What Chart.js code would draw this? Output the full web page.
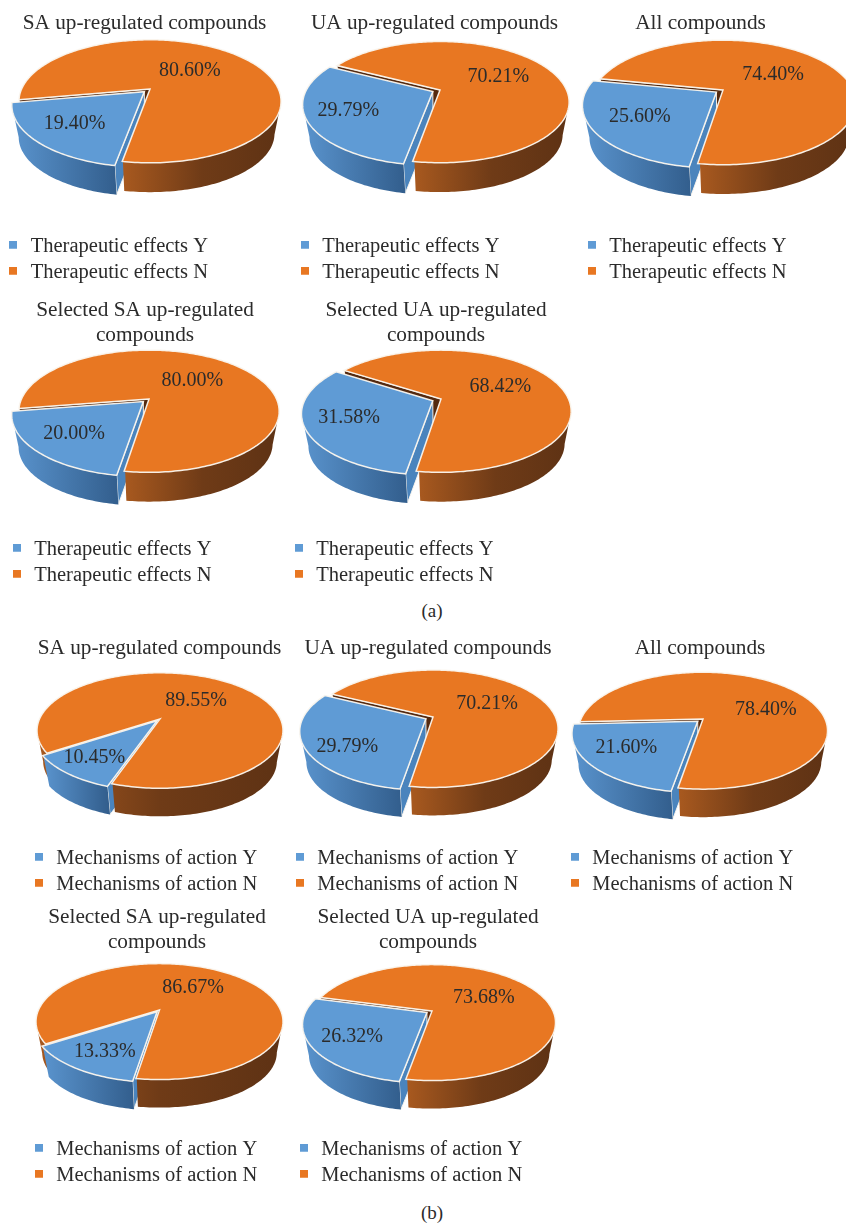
<!DOCTYPE html>
<html>
<head>
<meta charset="utf-8">
<style>
  html, body { margin: 0; background: #fff; overflow: hidden; }
  body { position: relative; width: 846px; height: 1223px; }
  canvas { position: absolute; }
  .cap { position: absolute; width: 40px; text-align: center; font: 19px "Liberation Serif", serif; color: #2b2b2b; }
</style>
</head>
<body>
<div class="cap" style="left:412px;top:600px">(a)</div>
<div class="cap" style="left:412px;top:1202px">(b)</div>
<script src="https://cdn.jsdelivr.net/npm/chart.js@4/dist/chart.umd.min.js"></script>
<script>
const titles = [
  'SA up-regulated compounds', 'UA up-regulated compounds', 'All compounds',
  ['Selected SA up-regulated', 'compounds'], ['Selected UA up-regulated', 'compounds'],
  'SA up-regulated compounds', 'UA up-regulated compounds', 'All compounds',
  ['Selected SA up-regulated', 'compounds'], ['Selected UA up-regulated', 'compounds']
];
const yesValues = [19.40, 29.79, 25.60, 20.00, 31.58, 10.45, 29.79, 21.60, 13.33, 26.32];
const noValues = [80.60, 70.21, 74.40, 80.00, 68.42, 89.55, 70.21, 78.40, 86.67, 73.68];
const therapeuticLabels = ['Therapeutic effects Y', 'Therapeutic effects N'];
const mechanismLabels = ['Mechanisms of action Y', 'Mechanisms of action N'];

// layout, one entry per pie
const pieCx = [150, 440, 723, 149, 441, 160, 433, 703, 159.5, 432];
const pieCy = [89, 90, 90, 399, 399, 719, 717, 719, 1010, 1011];
const pieRadius = [128.4, 126.5, 130, 127.5, 127.5, 120.5, 122.5, 122, 121, 121];
const firstAngle = [190, 190, 189, 189, 189, 199, 189, 189.5, 189, 190];
const explode = [8, 8, 8, 8, 9, 5, 8, 7, 4.5, 6];
const pieDepth = [33, 33, 33, 33, 33, 31.5, 31.5, 31.5, 31.5, 31.5];
const titleCx = [144.5, 434.5, 700.5, 145, 436, 159.5, 428, 700, 157, 428];
const legendX = [9, 300.5, 587.5, 12.5, 294.5, 34.5, 295.5, 570.5, 34.5, 299.5];
const canvasTop = [9, 9, 9, 296, 296, 634, 634, 634, 903, 903];
const canvasBottom = [293, 293, 293, 596, 596, 905, 905, 905, 1196, 1196];
const labelReach = [[0.744, 0.47], [0.755, 0.54], [0.716, 0.483], [0.744, 0.486], [0.743, 0.533],
  [0.78, 0.47], [0.796, 0.52], [0.74, 0.558], [0.764, 0.524], [0.735, 0.517]];
const labelTurn = [[0, 0], [0, 0], [0, 2], [0, 3], [0, 0], [0, 5], [-10, 0], [2, 24], [-2, 2], [-2, 3]];

const blue = '#5f9bd5';
const orange = '#e87722';
const wallColors = [['#5a94ce', '#335f8e'], ['#a8591f', '#6f3b17', '#5e3214']];
const innerColors = ['#4a84bd', '#54290f'];
const rimColor = 'rgba(250,246,238,0.95)';
const textColor = '#2b2b2b';
const serif = '"Liberation Serif", serif';
const canvasWidth = 300;
const legendPadding = 5.5;

function project(p, u, v) {
  const w = 1 - p.k * v;
  return { x: p.cx + p.rx * u / w, y: p.cy + p.rx * p.tilt * v / w };
}

function rimPoints(p, start, end, shift) {
  const pts = [];
  const steps = Math.max(2, Math.ceil((end - start) / 0.02));
  for (let i = 0; i <= steps; i++) {
    const a = start + (end - start) * i / steps;
    pts.push(project(p, Math.cos(a) + shift.u, Math.sin(a) + shift.v));
  }
  return pts;
}

function fillPath(ctx, pts, fill) {
  ctx.beginPath();
  pts.forEach((pt, i) => (i ? ctx.lineTo(pt.x, pt.y) : ctx.moveTo(pt.x, pt.y)));
  ctx.closePath();
  ctx.fillStyle = fill;
  ctx.fill();
}

// legend square, drawn in the upper part of its image so it lines up with the text
function legendMarker(color) {
  const img = document.createElement('canvas');
  img.width = 8;
  img.height = 12;
  const c = img.getContext('2d');
  c.fillStyle = color;
  c.fillRect(0, 0, 8, 8);
  return img;
}
const markers = [legendMarker(blue), legendMarker(orange)];

// pie chart tilted in perspective, drawn from the arc elements of the controller
const tiltedPie = {
  id: 'tiltedPie',
  beforeDatasetDraw(chart, args, opts) {
    const ctx = chart.ctx;
    const arcs = chart.getDatasetMeta(0).data;
    const slices = arcs.map((arc) => {
      const p = { cx: opts.cx, cy: opts.cy, rx: arc.outerRadius, tilt: 0.46, k: 0.2 };
      const mid = (arc.startAngle + arc.endAngle) / 2;
      const off = (arc.options.offset || 0) / arc.outerRadius;
      const shift = { u: Math.cos(mid) * off, v: Math.sin(mid) * off };
      return { arc, p, mid, shift };
    });

    // the underside of the pie sits further away, so it is slightly smaller
    const dropped = (pts) => pts.map((pt) => ({
      x: opts.cx + (pt.x - opts.cx) * 0.95,
      y: opts.cy + (pt.y - opts.cy) * 0.95 + opts.depth
    }));

    // inner wall along the first edge of each slice, the exploded one in front
    [1, 0].forEach((i) => {
      const s = slices[i];
      const tip = project(s.p, s.shift.u, s.shift.v);
      const edge = rimPoints(s.p, s.arc.startAngle, s.arc.startAngle, s.shift)[0];
      const quad = [tip, edge].concat(dropped([edge, tip]));
      fillPath(ctx, quad, innerColors[i]);
      ctx.strokeStyle = rimColor;
      ctx.lineWidth = 1;
      ctx.stroke();
    });

    // back slice first so the exploded one stays on top
    [1, 0].forEach((i) => {
      const s = slices[i];
      const rim = rimPoints(s.p, s.arc.startAngle, s.arc.endAngle, s.shift);
      // the outer wall only shows on the near side, which a wide slice crosses twice
      const runs = [];
      let run = null;
      for (let a = s.arc.startAngle; a <= s.arc.endAngle + 0.001; a += 0.02) {
        if (Math.sin(a) >= s.p.k) {
          if (!run) { run = []; runs.push(run); }
          run.push(project(s.p, Math.cos(a) + s.shift.u, Math.sin(a) + s.shift.v));
        } else {
          run = null;
        }
      }
      const xs = runs.flat().map((pt) => pt.x);
      const grad = ctx.createLinearGradient(Math.min(...xs), 0, Math.max(...xs), 0);
      wallColors[i].forEach((c, j) => grad.addColorStop(j / (wallColors[i].length - 1), c));
      runs.forEach((front) => fillPath(ctx, front.concat(dropped(front).reverse()), grad));

      const tip = project(s.p, s.shift.u, s.shift.v);
      fillPath(ctx, [tip].concat(rim), s.arc.options.backgroundColor);
      ctx.strokeStyle = rimColor;
      ctx.lineWidth = 1.5;
      ctx.stroke();
    });

    // value labels
    ctx.fillStyle = textColor;
    ctx.font = '20px ' + serif;
    ctx.textAlign = 'center';
    ctx.textBaseline = 'middle';
    slices.forEach((s, i) => {
      const r = opts.reach[i];
      const a = s.mid + opts.turn[i] * Math.PI / 180;
      const pt = project(s.p, Math.cos(a) * r, Math.sin(a) * r);
      ctx.fillText(chart.data.datasets[0].data[i].toFixed(2) + '%', pt.x, pt.y);
    });
    return false;
  }
};

titles.forEach((title, i) => {
  const left = Math.floor(Math.min(legendX[i], pieCx[i] - pieRadius[i] - 10)) - 6;
  const canvas = document.createElement('canvas');
  canvas.width = canvasWidth;
  canvas.height = canvasBottom[i] - canvasTop[i];
  canvas.style.left = left + 'px';
  canvas.style.top = canvasTop[i] + 'px';
  canvas.style.width = canvasWidth + 'px';
  canvas.style.height = canvas.height + 'px';
  document.body.appendChild(canvas);

  const padLeft = legendX[i] - left - 3.5 - legendPadding;
  const padRight = padLeft + canvasWidth - 2 * (titleCx[i] - left);

  new Chart(canvas, {
    type: 'pie',
    data: {
      labels: i < 5 ? therapeuticLabels : mechanismLabels,
      datasets: [{
        data: [yesValues[i], noValues[i]],
        backgroundColor: [blue, orange],
        borderWidth: 0,
        radius: pieRadius[i],
        rotation: firstAngle[i],
        offset: [explode[i], 0]
      }]
    },
    options: {
      responsive: false,
      animation: false,
      events: [],
      layout: { padding: { left: padLeft, right: padRight } },
      plugins: {
        title: {
          display: true,
          text: title,
          color: textColor,
          font: { family: serif, size: 21.3, weight: 'normal', lineHeight: 1.17 },
          padding: { top: 2, bottom: 0 }
        },
        legend: {
          position: 'bottom',
          align: 'start',
          labels: {
            usePointStyle: true,
            boxWidth: 15,
            boxHeight: 8,
            padding: legendPadding,
            color: textColor,
            font: { family: serif, size: 20.5 },
            generateLabels(chart) {
              const items = Chart.overrides.pie.plugins.legend.labels.generateLabels(chart);
              items.forEach((item, k) => { item.pointStyle = markers[k]; });
              return items;
            }
          }
        },
        tooltip: { enabled: false },
        tiltedPie: {
          cx: pieCx[i] - left,
          cy: pieCy[i] - canvasTop[i],
          depth: pieDepth[i],
          reach: labelReach[i],
          turn: labelTurn[i]
        }
      }
    },
    plugins: [tiltedPie]
  });
});
</script>
</body>
</html>
